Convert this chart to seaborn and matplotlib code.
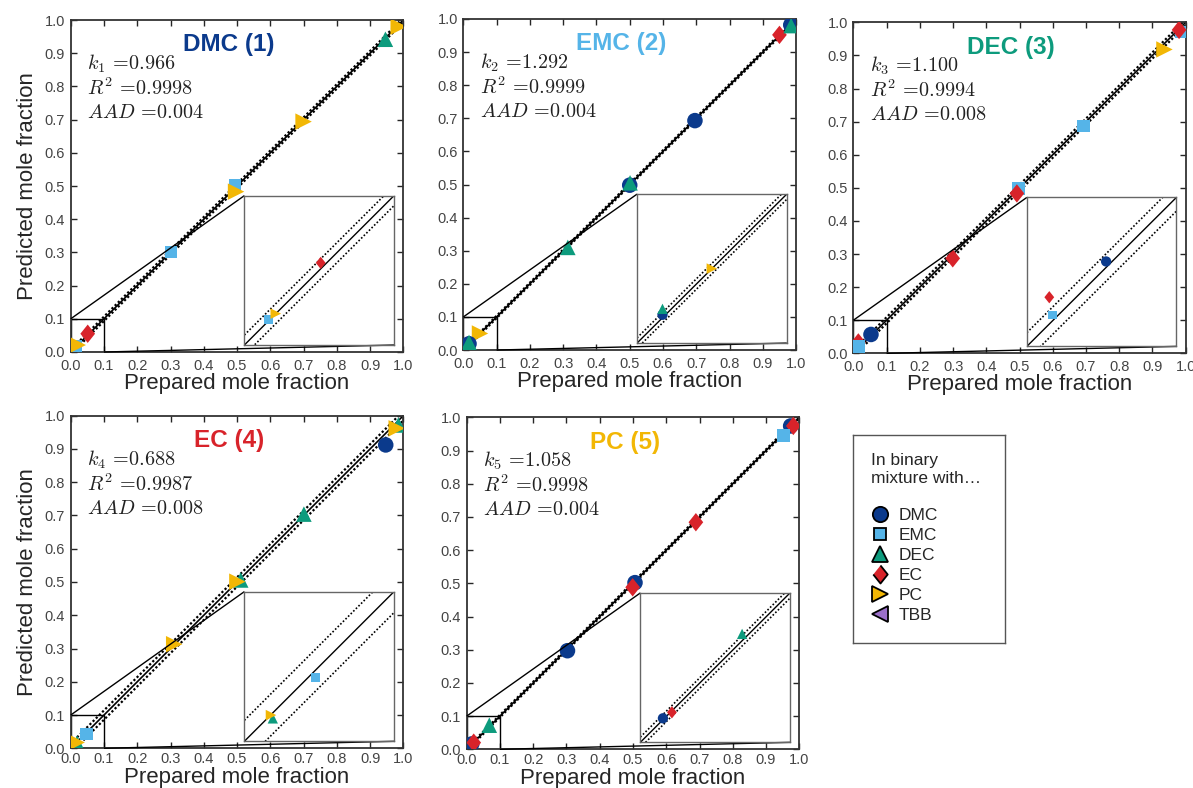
import numpy as np
import pandas as pd
import matplotlib
matplotlib.use("Agg")
import matplotlib.pyplot as plt
import seaborn as sns
from matplotlib.lines import Line2D
from mpl_toolkits.axes_grid1.inset_locator import mark_inset

# ---------------- data ----------------
components = ["DMC", "EMC", "DEC", "EC", "PC", "TBB"]
comp_colors = ["#0b3a8c", "#55b4e8", "#0d9b7d", "#d8232a", "#f2b705", "#9b6fc9"]
diamond = [(0.0, 1.0), (0.8, 0.0), (0.0, -1.0), (-0.8, 0.0)]
comp_markers = ["o", "s", "^", diamond, ">", "<"]

titles = ["DMC (1)", "EMC (2)", "DEC (3)", "EC (4)", "PC (5)"]
k_values = ["0.966", "1.292", "1.100", "0.688", "1.058"]
r2_values = ["0.9998", "0.9999", "0.9994", "0.9987", "0.9998"]
aad_values = ["0.004", "0.004", "0.008", "0.008", "0.004"]
band_widths = [0.0067, 0.0035, 0.0092, 0.014, 0.0035]

# panel 1: DMC
p1_x = [0.986, 0.946, 0.700, 0.494, 0.497, 0.302, 0.051, 0.016, 0.021]
p1_y = [0.980, 0.942, 0.694, 0.503, 0.483, 0.302, 0.055, 0.017, 0.021]
p1_c = ["PC", "DEC", "PC", "EMC", "PC", "EMC", "EC", "EMC", "PC"]
# panel 2: EMC
p2_x = [0.950, 0.984, 0.985, 0.696, 0.500, 0.501, 0.314, 0.050, 0.017, 0.017]
p2_y = [0.952, 0.982, 0.980, 0.693, 0.498, 0.505, 0.310, 0.050, 0.019, 0.023]
p2_c = ["EC", "DMC", "DEC", "DMC", "DMC", "DEC", "DEC", "PC", "DMC", "DEC"]
# panel 3: DEC
p3_x = [0.985, 0.980, 0.936, 0.692, 0.497, 0.492, 0.299, 0.053, 0.015, 0.017]
p3_y = [0.970, 0.977, 0.918, 0.687, 0.498, 0.483, 0.287, 0.057, 0.033, 0.021]
p3_c = ["EMC", "EC", "PC", "EMC", "EMC", "EC", "EC", "DMC", "EC", "EMC"]
# panel 4: EC
p4_x = [0.947, 0.985, 0.980, 0.701, 0.511, 0.501, 0.311, 0.0475, 0.019, 0.0178]
p4_y = [0.912, 0.972, 0.962, 0.704, 0.506, 0.501, 0.313, 0.0426, 0.0153, 0.0175]
p4_c = ["DMC", "DEC", "PC", "DEC", "DEC", "PC", "PC", "EMC", "DEC", "PC"]
# panel 5: PC
p5_x = [0.974, 0.982, 0.952, 0.689, 0.506, 0.499, 0.303, 0.068, 0.0151, 0.0211]
p5_y = [0.974, 0.974, 0.945, 0.684, 0.502, 0.488, 0.297, 0.0726, 0.0161, 0.0201]
p5_c = ["DMC", "EC", "EMC", "EC", "DMC", "EC", "DMC", "DEC", "DMC", "EC"]

panel_x = [p1_x, p2_x, p3_x, p4_x, p5_x]
panel_y = [p1_y, p2_y, p3_y, p4_y, p5_y]
panel_c = [p1_c, p2_c, p3_c, p4_c, p5_c]

ticks = [round(0.1 * i, 1) for i in range(11)]
tick_labels = [f"{t:.1f}" for t in ticks]

# ---------------- style ----------------
sns.set_style("ticks")
plt.rcParams["font.family"] = ["Liberation Sans", "DejaVu Sans"]
plt.rcParams["mathtext.fontset"] = "cm"
plt.rcParams["xtick.direction"] = "in"
plt.rcParams["ytick.direction"] = "in"

palette = dict(zip(components, comp_colors))
markers = dict(zip(components, comp_markers))
main_sizes = dict(zip(components, [125, 80, 125, 175, 140, 125]))
inset_sizes = dict(zip(components, [55, 38, 55, 78, 58, 55]))

fig = plt.figure(figsize=(11.93, 7.88), dpi=100)

positions = [
    [0.0593, 0.5533, 0.2788, 0.4213],
    [0.3884, 0.5558, 0.2789, 0.4201],
    [0.7153, 0.5516, 0.2786, 0.4201],
    [0.0593, 0.0504, 0.2788, 0.4221],
    [0.3912, 0.0491, 0.2788, 0.4213],
]

line_x = np.array([0.0, 1.0])
inset_x = np.array([0.0, 0.1])


def scatter(df, ax, sizes):
    sns.scatterplot(data=df, x="x", y="y", hue="comp", style="comp", size="comp",
                    hue_order=components, style_order=components,
                    size_order=components, sizes=sizes,
                    palette=palette, markers=markers,
                    edgecolor="none", legend=False, ax=ax, zorder=3)


for i in range(5):
    ax = fig.add_axes(positions[i])
    df = pd.DataFrame({"x": panel_x[i], "y": panel_y[i], "comp": panel_c[i]})
    bw = band_widths[i]

    # parity line with tolerance band
    ax.plot(line_x, line_x, color="black", lw=1.2, zorder=1)
    ax.plot(line_x, line_x + bw, color="black", lw=1.6, ls=(0, (1, 1)), zorder=1)
    ax.plot(line_x, line_x - bw, color="black", lw=1.6, ls=(0, (1, 1)), zorder=1)

    scatter(df, ax, main_sizes)

    ax.set_xlim(0, 1)
    ax.set_ylim(0, 1)
    ax.set_xticks(ticks)
    ax.set_yticks(ticks)
    ax.set_xticklabels(tick_labels)
    ax.set_yticklabels(tick_labels)
    ax.tick_params(axis="both", which="both", top=True, right=True,
                   labelsize=10.5, labelcolor="#444444", length=4, width=1)
    ax.tick_params(axis="x", pad=5 if i < 3 else 3)
    ax.tick_params(axis="y", pad=4)
    for sp in ax.spines.values():
        sp.set_visible(True)
        sp.set_linewidth(1.3)
        sp.set_color("#333333")
    ax.set_xlabel("Prepared mole fraction", fontsize=16,
                  labelpad=0 if i < 3 else 0.5)
    if i in (0, 3):
        ax.set_ylabel("Predicted mole fraction", fontsize=16, labelpad=5)
    else:
        ax.set_ylabel("")

    ax.text(0.475, 0.925, titles[i], transform=ax.transAxes, ha="center",
            va="center", fontsize=17.5, fontweight="bold",
            color=comp_colors[i])
    ax.text(0.05, 0.868, r"$k_{%d}\,=\!%s$" % (i + 1, k_values[i]),
            transform=ax.transAxes, fontsize=14.5, va="center", color="#222222")
    ax.text(0.05, 0.795, r"$R^2\,=\!%s$" % r2_values[i],
            transform=ax.transAxes, fontsize=14.5, va="center", color="#222222")
    ax.text(0.05, 0.722, r"$AAD\,=\!%s$" % aad_values[i],
            transform=ax.transAxes, fontsize=14.5, va="center", color="#222222")

    # inset zoom
    axins = ax.inset_axes([0.522, 0.021, 0.45, 0.45], transform=ax.transData)
    axins.plot(inset_x, inset_x, color="black", lw=1.0)
    axins.plot(inset_x, inset_x + bw, color="black", lw=1.2, ls=(0, (1, 1.2)))
    axins.plot(inset_x, inset_x - bw, color="black", lw=1.2, ls=(0, (1, 1.2)))
    scatter(df, axins, inset_sizes)
    axins.set_xlim(0, 0.1)
    axins.set_ylim(0, 0.1)
    axins.set_xticks([])
    axins.set_yticks([])
    axins.set_xlabel("")
    axins.set_ylabel("")
    for sp in axins.spines.values():
        sp.set_visible(True)
        sp.set_color("#666666")
        sp.set_linewidth(1.0)
    mark_inset(ax, axins, loc1=2, loc2=4, fc="none", ec="black", lw=1.0)

# legend panel
lax = fig.add_axes([0.715, 0.184, 0.1274, 0.264])
lax.set_xticks([])
lax.set_yticks([])
for sp in lax.spines.values():
    sp.set_visible(True)
    sp.set_color("#555555")
    sp.set_linewidth(1.0)
legend_ms = [11, 9, 11, 13, 11, 11]
handles = [Line2D([], [], ls="none", marker=m, markersize=ms,
                  markerfacecolor=c, markeredgecolor="black",
                  markeredgewidth=1.3)
           for m, c, ms in zip(comp_markers, comp_colors, legend_ms)]
leg = lax.legend(handles, components, title="In binary\nmixture with…\n",
                 loc="upper left", bbox_to_anchor=(0.0, 1.0), frameon=False,
                 fontsize=12.5, title_fontsize=12.5, handlelength=1.0,
                 handletextpad=0.55, labelspacing=0.28, borderpad=0.75,
                 borderaxespad=0.3)
leg._legend_box.align = "left"

fig.savefig("out.png", dpi=100)
